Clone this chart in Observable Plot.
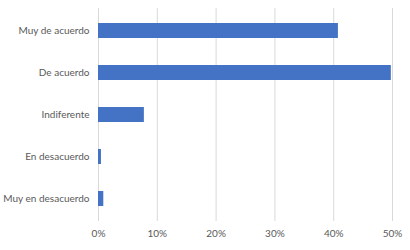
<!DOCTYPE html>
<html><head><meta charset="utf-8">
<script src="https://cdn.jsdelivr.net/npm/d3@7"></script>
<script src="https://cdn.jsdelivr.net/npm/@observablehq/plot@0.6"></script>
<style>body{margin:0;background:#fff}</style>
</head><body><div id="chart"></div>
<script>
const categories = ["Muy de acuerdo","De acuerdo","Indiferente","En desacuerdo","Muy en desacuerdo"];
const values = [0.408, 0.498, 0.078, 0.005, 0.009];
const xTicks = [0,0.1,0.2,0.3,0.4,0.5];
const data = categories.map((c,i)=>({cat:c, v:values[i]}));
const chart = Plot.plot({
  width:410, height:250,
  marginTop:8, marginBottom:29, marginLeft:98, marginRight:18,
  style:{fontFamily:"Lato, 'Open Sans', sans-serif", fontSize:"10px", color:"#595959", background:"#fff"},
  x:{domain:[0,0.5], ticks:xTicks, tickFormat:d3.format(".0%"), label:null},
  y:{domain:categories, paddingInner:0.645, paddingOuter:0.3225, label:null},
  marks:[
    Plot.gridX(xTicks,{stroke:"#d9d9d9", strokeOpacity:1}),
    Plot.barX(data,{x:"v", y:"cat", fill:"#4472C4"}),
    Plot.axisX({ticks:xTicks, tickSize:0, tickPadding:8, tickFormat:d3.format(".0%"), label:null}),
    Plot.axisY({tickSize:0, tickPadding:9, label:null})
  ]
});
document.getElementById("chart").append(chart);
</script></body></html>
